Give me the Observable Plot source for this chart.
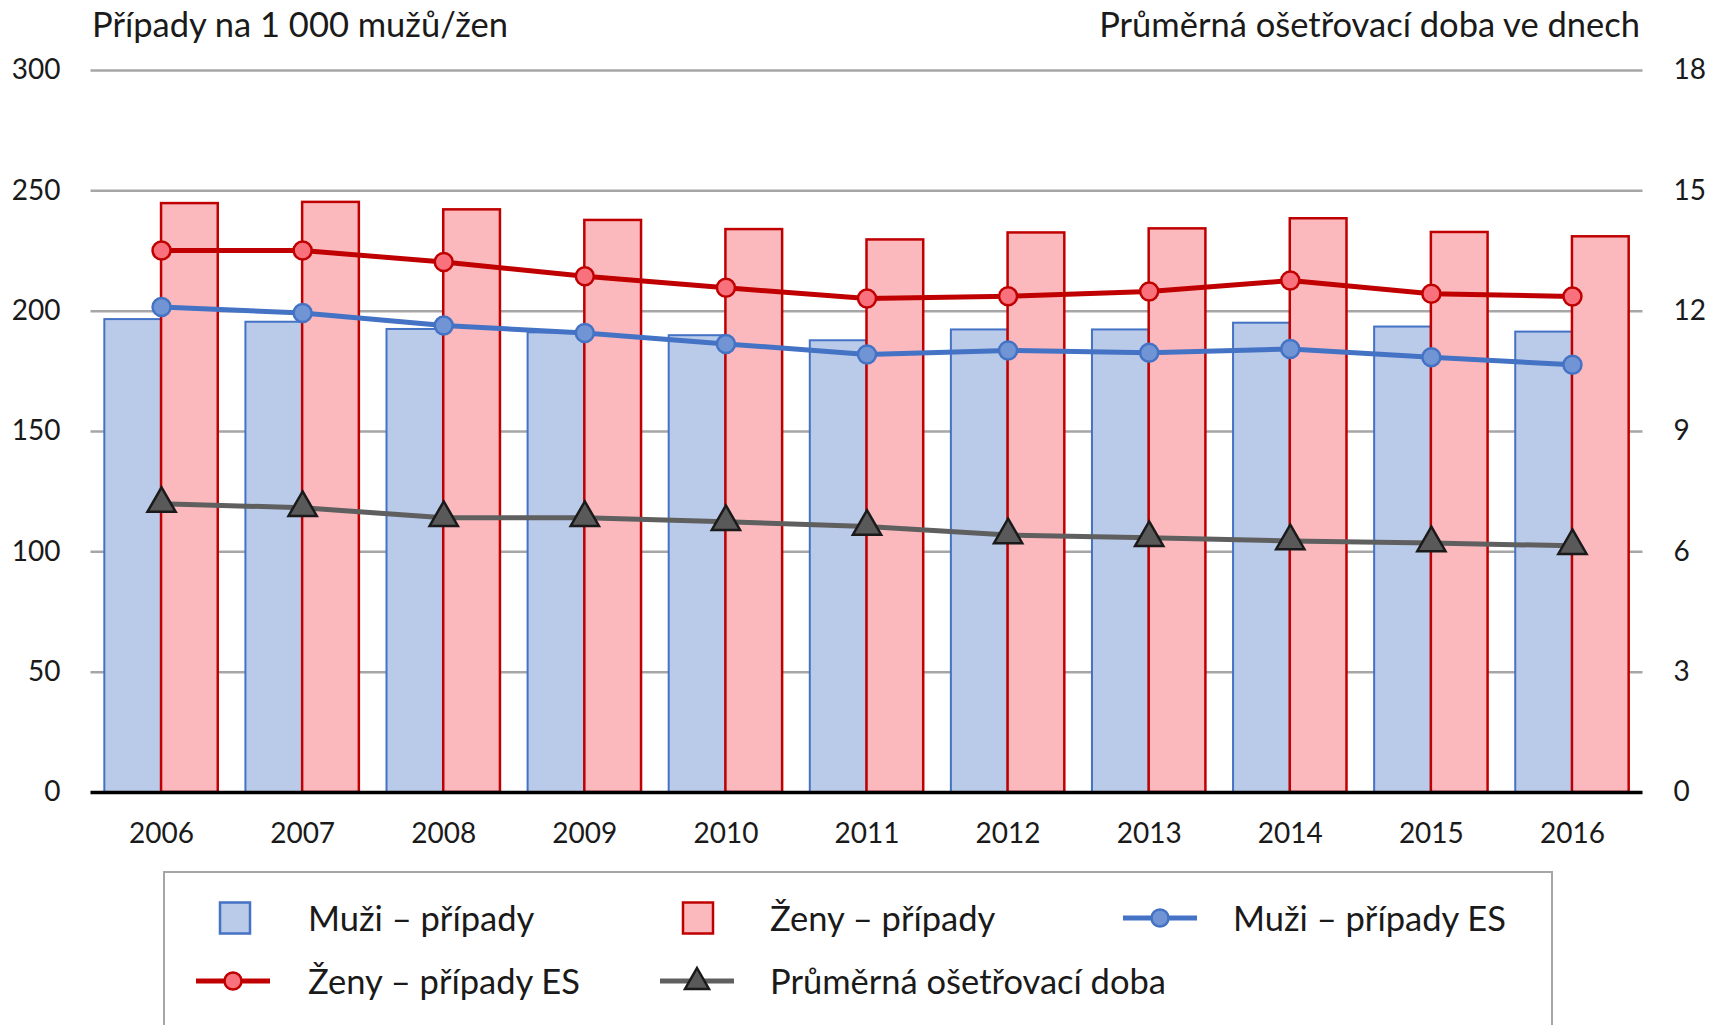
<!DOCTYPE html>
<html><head><meta charset="utf-8">
<script src="https://cdn.jsdelivr.net/npm/d3@7"></script>
<script src="https://cdn.jsdelivr.net/npm/@observablehq/plot@0.6"></script>
<style>
html,body{margin:0;padding:0;background:#fff;overflow:hidden;}
body{width:1709px;height:1025px;position:relative;font-family:Lato,"Open Sans",sans-serif;color:#1a1a1a;}
#head{position:relative;height:48px;font-size:34.5px;line-height:48px;}
#tl{position:absolute;left:92px;top:0;white-space:nowrap;}
#tr{position:absolute;right:69px;top:0;white-space:nowrap;}
#chart svg{display:block;}
#legbox{position:absolute;left:163px;top:871px;width:1390px;height:220px;border:2.5px solid #A6A6A6;box-sizing:border-box;}
.lt{position:absolute;font-size:34.5px;line-height:40px;white-space:nowrap;}
.ls{position:absolute;overflow:visible;}
</style>
</head><body>
<div id="head"><div id="tl"></div><div id="tr"></div></div>
<div id="chart"></div>
<div id="legbox"></div>
<script>
// ---- data ----
const years = [2006, 2007, 2008, 2009, 2010, 2011, 2012, 2013, 2014, 2015, 2016];
const menCases   = [196.5, 195.4, 192.4, 191.0, 189.8, 187.7, 192.2, 192.2, 195.0, 193.4, 191.3];
const womenCases = [244.7, 245.2, 242.1, 237.7, 233.9, 229.6, 232.5, 234.2, 238.4, 232.7, 230.9];
const menES      = [201.7, 199.2, 194.0, 190.9, 186.4, 182.0, 183.7, 182.7, 184.3, 180.9, 177.7];
const womenES    = [225.2, 225.2, 220.4, 214.5, 209.7, 205.3, 206.2, 208.2, 212.7, 207.2, 206.1];
const avgDays    = [7.2, 7.1, 6.85, 6.85, 6.75, 6.63, 6.42, 6.35, 6.27, 6.22, 6.15];
const leftTicks  = [0, 50, 100, 150, 200, 250, 300];
const rightTicks = [0, 3, 6, 9, 12, 15, 18];
const seriesNames = ["Muži – případy", "Ženy – případy", "Muži – případy ES", "Ženy – případy ES", "Průměrná ošetřovací doba"];
const leftTitle = "Případy na 1 000 mužů/žen";
const rightTitle = "Průměrná ošetřovací doba ve dnech";

// ---- build ----
const K = 300 / 18; // right axis -> left axis
const rows = years.map((y, i) => ({year: y, men: menCases[i], women: womenCases[i], menES: menES[i], womenES: womenES[i], days: avgDays[i]}));
const BW = 0.402;

const colors = {
  menFill: "#BACAE9", menStroke: "#4472C4", menDot: "#7195D4",
  womenFill: "#FBB9BE", womenStroke: "#C00000", womenDot: "#F8717C",
  grayLine: "#5F5F5F", triFill: "#595959", triStroke: "#1A1A1A"
};

document.getElementById("tl").textContent = leftTitle;
document.getElementById("tr").textContent = rightTitle;

const chart = Plot.plot({
  width: 1709, height: 810,
  marginLeft: 90.5, marginRight: 66.5, marginTop: 22, marginBottom: 66,
  style: {fontFamily: "Lato, 'Open Sans', sans-serif", fontSize: "28px", color: "#1a1a1a", background: "white", overflow: "visible"},
  x: {domain: [2005.5, 2016.5], axis: null},
  y: {domain: [0, 300], axis: null},
  marks: [
    Plot.ruleY(leftTicks.filter(v => v > 0), {stroke: "#A6A6A6", strokeWidth: 2.5}),
    Plot.rect(rows, {x1: d => d.year - BW, x2: d => d.year, y1: 0, y2: "men", fill: colors.menFill, stroke: colors.menStroke, strokeWidth: 2}),
    Plot.rect(rows, {x1: d => d.year, x2: d => d.year + BW, y1: 0, y2: "women", fill: colors.womenFill, stroke: colors.womenStroke, strokeWidth: 2.5}),
    Plot.ruleY([0], {stroke: "#000", strokeWidth: 3.5}),
    Plot.line(rows, {x: "year", y: d => d.days * K, stroke: colors.grayLine, strokeWidth: 5}),
    Plot.dot(rows, {x: "year", y: d => d.days * K, symbol: "triangle", r: 10.5, fill: colors.triFill, stroke: colors.triStroke, strokeWidth: 2.5}),
    Plot.line(rows, {x: "year", y: "menES", stroke: colors.menStroke, strokeWidth: 5}),
    Plot.dot(rows, {x: "year", y: "menES", r: 9, fill: colors.menDot, stroke: colors.menStroke, strokeWidth: 2.5}),
    Plot.line(rows, {x: "year", y: "womenES", stroke: colors.womenStroke, strokeWidth: 5}),
    Plot.dot(rows, {x: "year", y: "womenES", r: 9, fill: colors.womenDot, stroke: colors.womenStroke, strokeWidth: 2.5}),
    Plot.axisY(leftTicks, {anchor: "left", tickSize: 0, tickPadding: 30.5, label: null}),
    Plot.axisY(rightTicks.map(v => v * K), {anchor: "right", tickSize: 0, tickPadding: 30.5, label: null, tickFormat: v => String(Math.round(v / K))}),
    Plot.axisX(years, {anchor: "bottom", tickSize: 0, tickPadding: 31, label: null, tickFormat: d => String(d)})
  ]
});
document.getElementById("chart").appendChild(chart);

// ---- legend ----
const legendItems = [
  {name: seriesNames[0], kind: "rect", fill: colors.menFill, stroke: colors.menStroke, sx: 234.5, tx: 308, cy: 918},
  {name: seriesNames[1], kind: "rect", fill: colors.womenFill, stroke: colors.womenStroke, sx: 698, tx: 770, cy: 918},
  {name: seriesNames[2], kind: "dot", fill: colors.menDot, stroke: colors.menStroke, sx: 1160, tx: 1233, cy: 918},
  {name: seriesNames[3], kind: "dot", fill: colors.womenDot, stroke: colors.womenStroke, sx: 233, tx: 308, cy: 981},
  {name: seriesNames[4], kind: "tri", fill: colors.triFill, stroke: colors.triStroke, line: colors.grayLine, sx: 697, tx: 770, cy: 981}
];
const ns = "http://www.w3.org/2000/svg";
for (const it of legendItems) {
  const svg = document.createElementNS(ns, "svg");
  svg.setAttribute("class", "ls");
  svg.setAttribute("width", 80); svg.setAttribute("height", 40);
  svg.style.left = (it.sx - 40) + "px"; svg.style.top = (it.cy - 20) + "px";
  let inner = "";
  if (it.kind === "rect") {
    inner = `<rect x="25" y="4.5" width="30" height="31" fill="${it.fill}" stroke="${it.stroke}" stroke-width="2.5"/>`;
  } else if (it.kind === "dot") {
    inner = `<line x1="3" x2="77" y1="20" y2="20" stroke="${it.stroke}" stroke-width="5"/><circle cx="40" cy="20" r="8.5" fill="${it.fill}" stroke="${it.stroke}" stroke-width="2.5"/>`;
  } else {
    inner = `<line x1="3" x2="77" y1="20" y2="20" stroke="${it.line}" stroke-width="5"/><path d="M40,7 L52,28 L28,28 Z" fill="${it.fill}" stroke="${it.stroke}" stroke-width="2.5" stroke-linejoin="miter"/>`;
  }
  svg.innerHTML = inner;
  document.body.appendChild(svg);
  const t = document.createElement("div");
  t.className = "lt";
  t.textContent = it.name;
  t.style.left = it.tx + "px"; t.style.top = (it.cy - 20) + "px";
  document.body.appendChild(t);
}
</script>
</body></html>
